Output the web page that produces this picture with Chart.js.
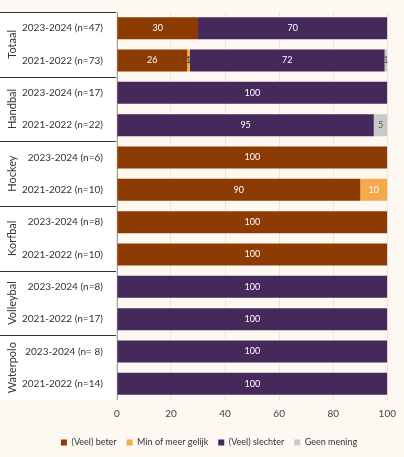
<!DOCTYPE html><html><head><meta charset="utf-8">
<script src="https://cdn.jsdelivr.net/npm/chart.js@4"></script>
<style>html,body{margin:0;background:#fdf8f1}#w{width:404px;height:457px}</style></head><body><div id="w"><canvas id="c"></canvas></div>
<script>
const rowLabels=["2023-2024 (n=47)","2021-2022 (n=73)","2023-2024 (n=17)","2021-2022 (n=22)","2023-2024 (n=6)","2021-2022 (n=10)","2023-2024 (n=8)","2021-2022 (n=10)","2023-2024 (n=8)","2021-2022 (n=17)","2023-2024 (n= 8)","2021-2022 (n=14)"];
const groups=["Totaal","Handbal","Hockey","Korfbal","Volleybal","Waterpolo"];
const beter=[30,26,0,0,100,90,100,100,0,0,0,0];
const gelijk=[0,1,0,0,0,10,0,0,0,0,0,0];
const slechter=[70,72,100,95,0,0,0,0,100,100,100,100];
const geen=[0,1,0,5,0,0,0,0,0,0,0,0];
const xTicks=[0,20,40,60,80,100];
const F="Lato, sans-serif";
const panel={id:'panel',beforeDraw(ch){const c=ch.ctx,a=ch.chartArea;c.save();c.fillStyle='#ffffff';c.fillRect(0,a.top,a.left,a.bottom-a.top);
c.strokeStyle='#333';c.lineWidth=1;const step=(a.bottom-a.top)/rowLabels.length;
for(let g=0;g<groups.length;g++){const yy=Math.round(a.top+g*2*step)+0.5;c.beginPath();c.moveTo(0,yy);c.lineTo(a.left,yy);c.stroke();}
c.beginPath();c.moveTo(a.left+0.5,a.top);c.lineTo(a.left+0.5,a.bottom);c.strokeStyle='#999';c.stroke();
c.fillStyle='#333';c.font='11px '+F;c.textAlign='center';c.textBaseline='middle';
groups.forEach((g,i)=>{const cy=a.top+(i*2+1)*step;c.save();c.translate(12,cy);c.rotate(-Math.PI/2);c.fillText(g,0,0);c.restore();});
c.restore();},
afterDatasetsDraw(ch){const c=ch.ctx;c.save();c.font='9px '+F;c.textAlign='center';c.textBaseline='middle';
ch.data.datasets.forEach((ds,di)=>{ch.getDatasetMeta(di).data.forEach((b,i)=>{const v=ds.data[i];if(!v)return;c.fillStyle=di==3?'#555':(di==1?(v>5?'#fff':'#333'):'#fff');const x=(b.x+b.base)/2;c.fillText(v,x,b.y);});});c.restore();}};
new Chart(document.getElementById('c'),{type:'bar',data:{labels:rowLabels,datasets:[
{label:'(Veel) beter',data:beter,backgroundColor:'#8c3b02'},
{label:'Min of meer gelijk',data:gelijk,backgroundColor:'#f6a94b'},
{label:'(Veel) slechter',data:slechter,backgroundColor:'#46295b'},
{label:'Geen mening',data:geen,backgroundColor:'#c9c9c9'}]},
options:{indexAxis:'y',responsive:true,maintainAspectRatio:false,animation:false,
layout:{padding:{left:16,right:2,top:1}},
scales:{x:{stacked:true,min:0,max:100,afterBuildTicks(s){s.ticks=xTicks.map(v=>({value:v}));},grid:{color:'#efe4d8',drawTicks:false},border:{display:false},ticks:{color:'#444',font:{family:F,size:10},padding:8}},
y:{stacked:true,grid:{display:false},border:{display:false},ticks:{color:'#333',font:{family:F,size:10},padding:6}}},
plugins:{legend:{position:'bottom',labels:{boxWidth:6,boxHeight:6,font:{family:F,size:9},color:'#333',padding:10}},tooltip:{enabled:false}},
datasets:{bar:{categoryPercentage:0.68,barPercentage:1}}},plugins:[panel]});
</script></body></html>
